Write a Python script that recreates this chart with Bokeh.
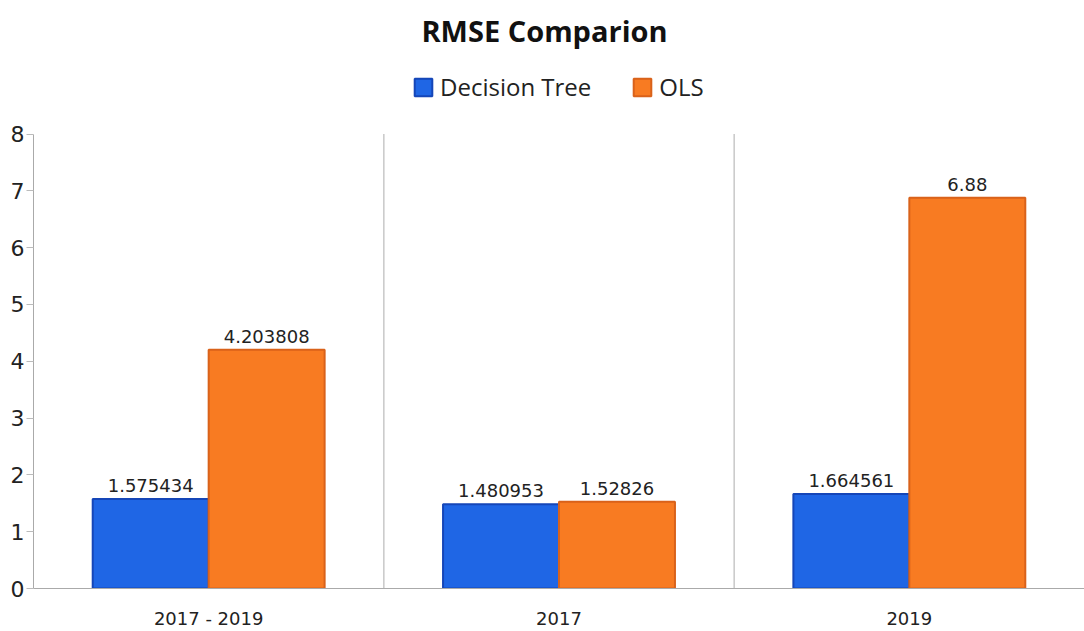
from bokeh.plotting import figure
from bokeh.models import ColumnDataSource, Legend, LegendItem, LabelSet, Label, FactorRange
from bokeh.core.properties import value
from bokeh.transform import dodge
from bokeh.embed import file_html
from bokeh.resources import INLINE

title = "RMSE Comparion"
categories = ["2017 - 2019", "2017", "2019"]
decision_tree = [1.575434, 1.480953, 1.664561]
ols = [4.203808, 1.52826, 6.88]
dt_labels = ["1.575434", "1.480953", "1.664561"]
ols_labels = ["4.203808", "1.52826", "6.88"]
y_ticks = [0, 1, 2, 3, 4, 5, 6, 7, 8]

# layout (pixels)
H = 631
frame_top, axis_top, frame_bottom = 0, 134, 590
y_end = y_ticks[-1] * (frame_bottom - frame_top) / (frame_bottom - axis_top)

src = ColumnDataSource(dict(cat=categories, dt=decision_tree, ols=ols,
                            dtl=dt_labels, olsl=ols_labels))
sep_src = ColumnDataSource(dict(cat=categories[:-1],
                                y0=[y_ticks[0]] * (len(categories) - 1),
                                y1=[y_ticks[-1]] * (len(categories) - 1)))

p = figure(x_range=FactorRange(*categories, range_padding=0), y_range=(0, y_end),
           width=1084, height=H, output_backend="svg", toolbar_location=None,
           min_border_left=33, min_border_right=0, min_border_top=frame_top,
           min_border_bottom=H - frame_bottom)

p.add_layout(Label(x=511, y=frame_bottom - 32, x_units="screen", y_units="screen",
                   text=title, text_align="center", text_baseline="alphabetic",
                   text_font="Open Sans", text_font_size="29px", text_font_style="bold",
                   text_color="#111111"))

bw = 0.331
p.segment(x0=dodge("cat", 0.5, range=p.x_range), x1=dodge("cat", 0.5, range=p.x_range),
          y0="y0", y1="y1", source=sep_src, line_color="#c8c8c8", line_width=1.5)

r1 = p.vbar(x=dodge("cat", -bw / 2, range=p.x_range), top="dt", width=bw, source=src,
            fill_color="#1f66e5", line_color="#1546b8", line_width=2)
r2 = p.vbar(x=dodge("cat", bw / 2, range=p.x_range), top="ols", width=bw, source=src,
            fill_color="#f87b22", line_color="#d9621a", line_width=2)

lab1 = LabelSet(x=dodge("cat", -bw / 2, range=p.x_range), y="dt", text="dtl", source=src,
                text_align="center", y_offset=7, text_font=value("DejaVu Sans"),
                text_font_size="18px", text_color="#222222")
lab2 = LabelSet(x=dodge("cat", bw / 2, range=p.x_range), y="ols", text="olsl", source=src,
                text_align="center", y_offset=7, text_font=value("DejaVu Sans"),
                text_font_size="18px", text_color="#222222")
p.add_layout(lab1)
p.add_layout(lab2)

legend = Legend(items=[LegendItem(label="Decision Tree", renderers=[r1]),
                       LegendItem(label="OLS", renderers=[r2])],
                orientation="horizontal", location=(379, 485),
                label_text_font="Open Sans", label_text_font_size="24px",
                label_text_color="#222222", glyph_width=22, glyph_height=22,
                spacing=40, border_line_color=None, background_fill_alpha=0,
                padding=10, margin=0, label_standoff=6)
p.add_layout(legend)

p.xgrid.grid_line_color = None
p.ygrid.grid_line_color = None
p.outline_line_color = None

p.yaxis.ticker = y_ticks
p.yaxis.bounds = (y_ticks[0], y_ticks[-1])
p.yaxis.axis_line_color = "#aaaaaa"
p.yaxis.major_tick_line_color = "#bbbbbb"
p.yaxis.major_tick_out = 7
p.yaxis.major_tick_in = 0
p.yaxis.minor_tick_line_color = None
p.yaxis.major_label_text_font = "DejaVu Sans"
p.yaxis.major_label_text_font_size = "22px"
p.yaxis.major_label_text_color = "#222222"
p.yaxis.major_label_standoff = 2

p.xaxis.axis_line_color = "#aaaaaa"
p.xaxis.major_tick_line_color = None
p.xaxis.major_tick_out = 0
p.xaxis.major_tick_in = 0
p.xaxis.minor_tick_line_color = None
p.xaxis.major_label_text_font = "DejaVu Sans"
p.xaxis.major_label_text_font_size = "18px"
p.xaxis.major_label_text_color = "#222222"
p.xaxis.major_label_standoff = 19

open("out.html", "w").write(file_html(p, INLINE))
